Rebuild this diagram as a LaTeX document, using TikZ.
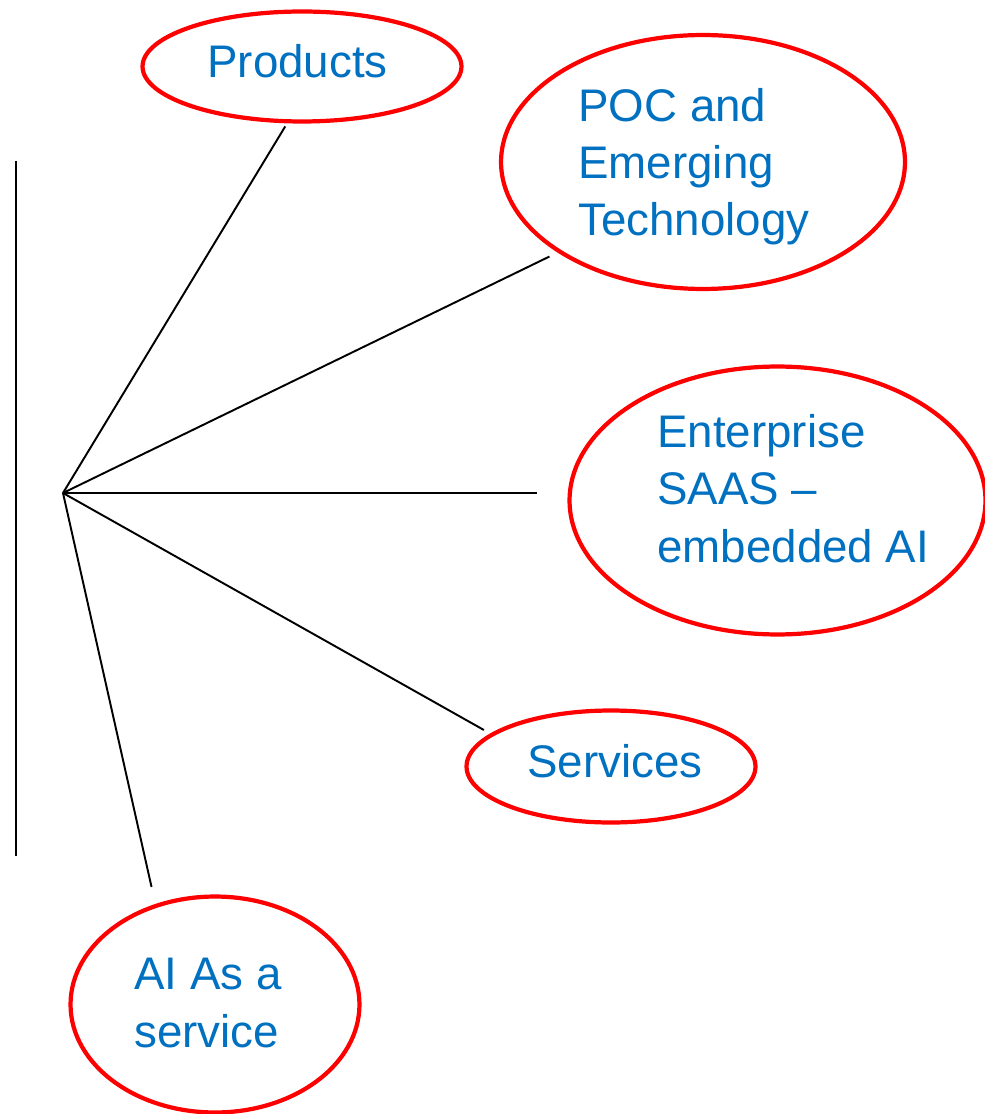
\documentclass[tikz,border=0pt]{standalone}
\usepackage{fontspec}
\setmainfont{Liberation Sans}
\usepackage{xcolor}
\usetikzlibrary{shapes.geometric, positioning, calc}
\definecolor{textblue}{RGB}{0,112,192}

\begin{document}
\begin{tikzpicture}[x=0.02cm, y=-0.02cm,
    bubble/.style={draw=red, line width=2.4pt, ellipse, inner sep=0pt, outer sep=0pt},
    spoke/.style={black, line width=1.1pt},
    txt/.style={text=textblue, font=\fontsize{26}{32.6}\selectfont, align=left, inner sep=0pt, anchor=base west}]
\useasboundingbox (0,0) rectangle (984,1114);

% Axis and hub
\draw[spoke] (16,161) -- (16,856);
\coordinate (hub) at (63,493);

% Bubbles
\foreach \id/\x/\y/\w/\h in {prod/302/66.5/6.38/2.2, poc/703/162/8.08/5.08, ent/777.5/500.5/8.32/5.36, serv/611/766.5/5.78/2.24, aias/215/1004.5/5.78/4.32} {
    \node[bubble, minimum width=\w cm, minimum height=\h cm] (\id) at (\x,\y) {};
}

% Labels (anchored on the baseline of the last line)
\node[txt] (prod-txt) at (207,78) {Products};
\node[txt] (poc-txt) at (578,236) {POC and\\Emerging\\Technology};
\node[txt] (ent-txt) at (657,562) {Enterprise\\SAAS --\\embedded AI};
\node[txt] (serv-txt) at (527,777) {Services};
\node[txt] (aias-txt) at (134,1047) {AI As a\\service};

% Spokes
\draw[spoke, shorten >=0.12cm] (hub) -- (prod.256);
\draw[spoke, shorten >=0.23cm] (hub) -- (poc.212);
\draw[spoke, shorten >=0.65cm] (hub) -- (hub -| ent.west);
\draw[spoke, shorten >=0.19cm] (hub) -- (serv.165);
\draw[spoke, shorten >=0.39cm] (hub) -- (aias.121);
\end{tikzpicture}
\end{document}
